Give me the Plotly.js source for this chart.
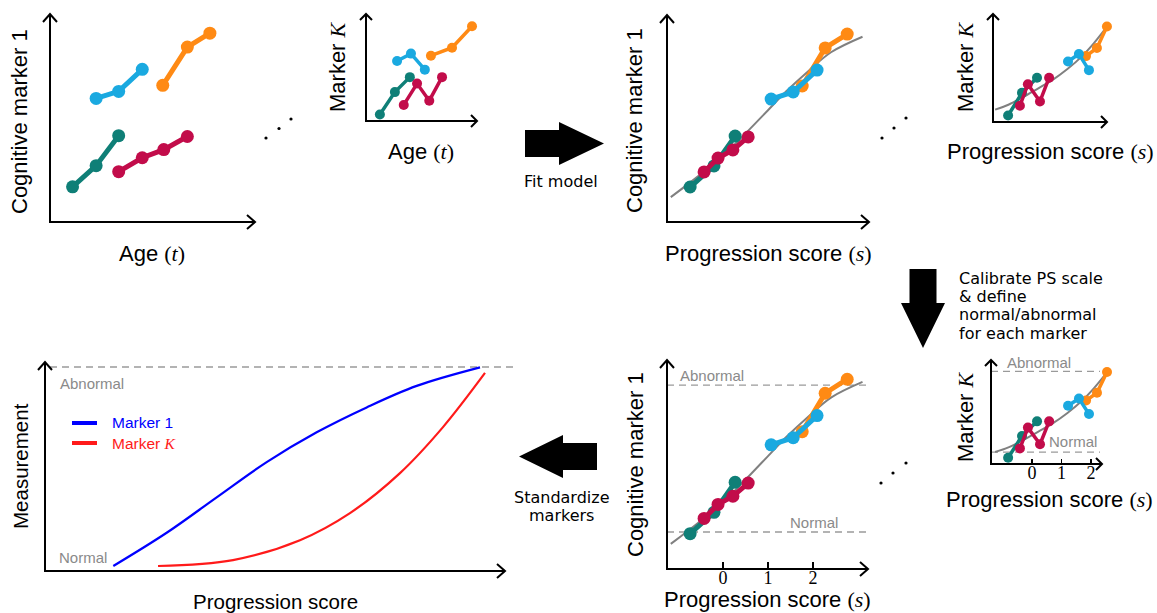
<!DOCTYPE html>
<html><head><meta charset="utf-8">
<script src="https://cdn.plot.ly/plotly-3.0.1.min.js"></script>
<style>html,body{margin:0;padding:0;background:#fff;}#chart{width:1157px;height:613px;}</style>
</head><body><div id="chart"></div>
<script>
// ================= DATA =================
// Cognitive marker 1 measurements per subject (shared by age and PS panels)
const cog1_teal    = [1.69, 2.71, 4.15];
const cog1_cyan    = [5.94, 6.28, 7.34];
const cog1_orange  = [6.57, 8.41, 9.08];
const cog1_crimson = [2.42, 3.09, 3.48, 4.11];
// ages at visits (cognitive marker 1 panel)
const age1_teal    = [62.2, 64.5, 66.7];
const age1_cyan    = [64.5, 66.7, 69.0];
const age1_orange  = [71.0, 73.4, 75.6];
const age1_crimson = [66.7, 69.0, 71.1, 73.4];
// Marker K measurements per subject
const mk_teal    = [0.6, 2.7, 4.1];
const mk_cyan    = [5.6, 6.3, 4.8];
const mk_orange  = [6.1, 6.85, 8.85];
const mk_crimson = [1.5, 3.5, 1.9, 4.1];
// ages at visits (marker K panel)
const ageK_teal    = [62.5, 65.2, 67.9];
const ageK_cyan    = [65.6, 68.1, 70.6];
const ageK_orange  = [71.7, 75.5, 79.1];
const ageK_crimson = [66.8, 69.2, 71.4, 73.7];
// progression scores (marker 1 panels)
const ps1_teal    = [-0.73, -0.20, 0.27];
const ps1_cyan    = [1.07, 1.56, 2.09];
const ps1_orange  = [1.76, 2.27, 2.76];
const ps1_crimson = [-0.42, -0.11, 0.22, 0.56];
// progression scores (marker K panels)
const psK_teal    = [-0.81, -0.34, 0.17];
const psK_cyan    = [1.22, 1.59, 1.93];
const psK_orange  = [1.83, 2.20, 2.54];
const psK_crimson = [-0.41, -0.14, 0.27, 0.58];
// fitted model curves
const fit1_s = [-1.16, -0.5, 0.1, 0.6, 1.0, 1.4, 1.9, 2.4, 3.1];
const fit1_y = [1.2, 2.3, 3.4, 4.5, 5.4, 6.3, 7.3, 8.2, 8.95];
const fitK_s = [-1.25, -0.8, -0.3, 0.2, 0.7, 1.2, 1.7, 2.1, 2.45];
const fitK_y = [1.15, 1.6, 2.3, 3.1, 3.9, 4.9, 6.1, 7.3, 8.5];
// normal / abnormal levels
const cog1_levels = [1.77, 8.8];   // [normal, abnormal]
const mk_levels   = [1.15, 8.9];
// standardized curves
const std1_ps  = [1.485, 2.645, 3.732, 4.819, 5.906, 6.993, 8.08, 9.457];
const std1_val = [0.0, 0.167, 0.345, 0.522, 0.672, 0.797, 0.905, 0.998];
const stdK_ps  = [2.457, 4.087, 5.543, 6.63, 7.717, 8.652, 9.565];
const stdK_val = [0.0, 0.03, 0.13, 0.266, 0.467, 0.698, 0.97];
const std_abnormal = 1;
// tick labels
const psTicks = [0, 1, 2];
const psTickText = ['0', '1', '2'];

// ================= STYLE / LAYOUT =================
const W = 1157, H = 613, PAD = 20;
const px = x => x / W, py = y => 1 - y / H;
const C = {teal:'#0f7f77', cyan:'#1aa9e0', orange:'#ff8a14', crimson:'#c20c4a', gray:'#808080'};
const SANS = 'Liberation Sans', SERIF = 'Liberation Serif', HELP = 'DejaVu Sans';

const panels = [
  {n:1, ox:50,  ex:255,  oy:222, ty:14,  xr:[60,80],          yr:[0,10], big:true},
  {n:2, ox:366, ex:477,  oy:121, ty:14,  xr:[60,80],          yr:[0,10], big:false},
  {n:3, ox:667, ex:869,  oy:222, ty:15,  xr:[-1.244,3.244],   yr:[0,10], big:true},
  {n:4, ox:993, ex:1107, oy:122, ty:14,  xr:[-1.322,2.542],   yr:[0,10], big:false},
  {n:5, ox:991, ex:1102, oy:464, ty:360, xr:[-1.39,2.37],     yr:[0,10], big:false, ticks:5},
  {n:6, ox:667, ex:868,  oy:569, ty:360, xr:[-1.244,3.222],   yr:[0,10], big:true, ticks:7},
  {n:7, ox:45,  ex:505,  oy:571, ty:362, xr:[0,10],           yr:[-0.025,1.025], big:true}
];
const sid = n => (n === 1 ? '' : String(n));

const layout = {
  width: W, height: H, autosize: false,
  margin: {l:0, r:0, t:0, b:0, pad:0},
  paper_bgcolor: '#fff', plot_bgcolor: 'rgba(0,0,0,0)',
  showlegend: false, shapes: [], annotations: []
};

panels.forEach(p => {
  const kx = (p.xr[1]-p.xr[0])/(p.ex-p.ox), ky = (p.yr[1]-p.yr[0])/(p.oy-p.ty);
  const pl = Math.min(PAD, p.ox), pr = Math.min(PAD, W-p.ex), pt = Math.min(PAD, p.ty), pb = Math.min(PAD, H-p.oy);
  const xa = {
    domain: [px(p.ox-pl), px(p.ex+pr)], range: [p.xr[0]-pl*kx, p.xr[1]+pr*kx],
    anchor: 'y'+sid(p.n), showgrid:false, zeroline:false, showline:false, fixedrange:true,
    showticklabels:false, ticks:''
  };
  if (p.ticks) {
    Object.assign(xa, {anchor:'free', position: py(p.oy), showticklabels:true, ticks:'inside',
      tickvals: psTicks, ticktext: psTickText, ticklen: p.ticks, tickwidth: 1.5, tickcolor:'#000',
      ticklabelstandoff: -4,
      tickfont:{family:SERIF, size:18, color:'#000'}});
  }
  layout['xaxis'+sid(p.n)] = xa;
  layout['yaxis'+sid(p.n)] = {
    domain: [py(p.oy+pb), py(p.ty-pt)], range: [p.yr[0]-pb*ky, p.yr[1]+pt*ky],
    anchor: 'x'+sid(p.n), showgrid:false, zeroline:false, showline:false, fixedrange:true,
    showticklabels:false, ticks:''
  };
  // axis lines + open arrowheads
  const L = p.big ? 8 : 6, Wd = p.big ? 7 : 6;
  const ax = {type:'path', xref:'paper', yref:'paper', line:{color:'#000', width:2}, layer:'above'};
  const P = (x,y) => px(x)+','+py(y);
  layout.shapes.push(Object.assign({}, ax, {path:`M${P(p.ox,p.ty)} L${P(p.ox,p.oy)} L${P(p.ex,p.oy)}`}));
  layout.shapes.push(Object.assign({}, ax, {path:`M${P(p.ox-Wd,p.ty+L)} L${P(p.ox,p.ty)} L${P(p.ox+Wd,p.ty+L)}`}));
  layout.shapes.push(Object.assign({}, ax, {path:`M${P(p.ex-L,p.oy-Wd)} L${P(p.ex,p.oy)} L${P(p.ex-L,p.oy+Wd)}`}));
});

// ================= TRACES =================
const traces = [];
function ser(n, x, y, color, big) {
  traces.push({type:'scatter', mode:'lines+markers', x, y,
    xaxis:'x'+sid(n), yaxis:'y'+sid(n),
    line:{color, width: big ? 5 : 3.5}, marker:{color, size: big ? 13 : 10},
    cliponaxis:false, hoverinfo:'skip', showlegend:false});
}
function curve(n, x, y, color, w) {
  traces.push({type:'scatter', mode:'lines', x, y, xaxis:'x'+sid(n), yaxis:'y'+sid(n),
    line:{color, width:w, shape:'spline', smoothing:1}, cliponaxis:false, hoverinfo:'skip', showlegend:false});
}
// panel 1: marker 1 vs age
ser(1, age1_teal, cog1_teal, C.teal, true);
ser(1, age1_cyan, cog1_cyan, C.cyan, true);
ser(1, age1_orange, cog1_orange, C.orange, true);
ser(1, age1_crimson, cog1_crimson, C.crimson, true);
// panel 2: marker K vs age
ser(2, ageK_teal, mk_teal, C.teal, false);
ser(2, ageK_cyan, mk_cyan, C.cyan, false);
ser(2, ageK_orange, mk_orange, C.orange, false);
ser(2, ageK_crimson, mk_crimson, C.crimson, false);
// panels 3 & 6: marker 1 vs PS
[3, 6].forEach(n => {
  curve(n, fit1_s, fit1_y, C.gray, 2);
  ser(n, ps1_teal, cog1_teal, C.teal, true);
  ser(n, ps1_orange, cog1_orange, C.orange, true);
  ser(n, ps1_cyan, cog1_cyan, C.cyan, true);
  ser(n, ps1_crimson, cog1_crimson, C.crimson, true);
});
// panels 4 & 5: marker K vs PS
[4, 5].forEach(n => {
  curve(n, fitK_s, fitK_y, C.gray, 2);
  ser(n, psK_teal, mk_teal, C.teal, false);
  ser(n, psK_orange, mk_orange, C.orange, false);
  ser(n, psK_cyan, mk_cyan, C.cyan, false);
  ser(n, psK_crimson, mk_crimson, C.crimson, false);
});
// panel 7: standardized markers
curve(7, std1_ps, std1_val, '#0000ff', 2.2);
curve(7, stdK_ps, stdK_val, '#ff1a1a', 2.2);

// ================= DECORATIONS =================
const dash = {color:'#9a9a9a', width:1.3, dash:'7px,5px'};
cog1_levels.forEach(v => layout.shapes.push({type:'line', xref:'paper', yref:'y6', x0:px(667), x1:px(868), y0:v, y1:v, line:dash, layer:'below'}));
mk_levels.forEach(v => layout.shapes.push({type:'line', xref:'paper', yref:'y5', x0:px(991), x1:px(1100), y0:v, y1:v, line:dash, layer:'below'}));
layout.shapes.push({type:'line', xref:'paper', yref:'y7', x0:px(50), x1:px(516), y0:std_abnormal, y1:std_abnormal, line:dash, layer:'below'});

// block arrows
const P = (x,y) => px(x)+','+py(y);
const block = pts => ({type:'path', xref:'paper', yref:'paper', fillcolor:'#000', line:{width:0},
  path: 'M' + pts.map(q => P(q[0], q[1])).join(' L') + ' Z'});
layout.shapes.push(block([[525,130],[559,130],[559,122],[604,143.5],[559,165],[559,157],[525,157]]));
layout.shapes.push(block([[909.5,269],[936.5,269],[936.5,303],[945,303],[923,348],[901,303],[909.5,303]]));
layout.shapes.push(block([[597,443],[563,443],[563,435],[519,456.5],[563,478],[563,470],[597,470]]));

// ellipsis dots
[[266,138],[279,128.5],[291,119],[882,138],[894,128],[906,118],[881,483],[893,473],[906,463]].forEach(d => {
  const r = 1.6;
  layout.shapes.push({type:'circle', xref:'paper', yref:'paper', x0:px(d[0]-r), x1:px(d[0]+r), y0:py(d[1]+r), y1:py(d[1]-r),
    fillcolor:'#000', line:{width:0}});
});
// legend segments (panel 7)
layout.shapes.push({type:'line', xref:'paper', yref:'paper', x0:px(72), x1:px(97), y0:py(423), y1:py(423), line:{color:'#0000ff', width:4}});
layout.shapes.push({type:'line', xref:'paper', yref:'paper', x0:px(72), x1:px(97), y0:py(443), y1:py(443), line:{color:'#ff1a1a', width:4}});

// ================= TEXT =================
const ser_ = s => `<span style="font-family:'${SERIF}'">${s}</span>`;
function txt(text, x, y, opts) {
  layout.annotations.push(Object.assign({
    text, x: px(x), y: py(y), xref:'paper', yref:'paper', showarrow:false,
    xanchor:'center', yanchor:'middle', font:{family:SANS, size:22, color:'#000'}
  }, opts || {}));
}
const YT = {textangle:-90};
const cog1 = 'Cognitive marker 1';
const mK = 'Marker ' + ser_('<i>K</i>');
const ageT = 'Age ' + ser_('(<i>t</i>)');
const psT = 'Progression score ' + ser_('(<i>s</i>)');
// panel 1
txt(cog1, 19, 122, YT);
txt(ageT, 152, 254);
// panel 2
txt(mK, 337, 67, YT);
txt(ageT, 421, 152);
// panel 3
txt(cog1, 635, 121, YT);
txt(psT, 768, 253);
// panel 4
txt(mK, 965, 67, YT);
txt(psT, 1050, 152);
// panel 5
txt(mK, 965, 417, YT);
txt(psT, 1049, 499);
// panel 6
txt(cog1, 635, 465, YT);
txt(psT, 767, 599);
// panel 7
txt('Measurement', 20, 466, {textangle:-90, font:{family:SANS, size:20.5, color:'#000'}});
txt('Progression score', 275, 601, {font:{family:SANS, size:20.5, color:'#000'}});
const grayF = {family:SANS, size:15, color:'#8a8a8a'};
txt('Abnormal', 58, 383, {xanchor:'left', font:grayF});
txt('Normal', 57, 557, {xanchor:'left', font:grayF});
txt('Abnormal', 678, 375, {xanchor:'left', font:grayF});
txt('Normal', 788, 522, {xanchor:'left', font:grayF});
txt('Abnormal', 1005, 362, {xanchor:'left', font:grayF});
txt('Normal', 1047, 441, {xanchor:'left', font:grayF});
txt('Marker 1', 110, 423, {xanchor:'left', font:{family:SANS, size:15.5, color:'#0000ff'}});
txt('Marker ' + ser_('<i>K</i>'), 110, 443, {xanchor:'left', font:{family:SANS, size:15.5, color:'#ff1a1a'}});
// step labels
const helpF = {family:HELP, size:16, color:'#000'};
txt('Fit model', 561, 181, {font:helpF});
txt('Standardize', 561, 497, {font:helpF});
txt('markers', 561, 515, {font:helpF});
['Calibrate PS scale', '&amp; define', 'normal/abnormal', 'for each marker'].forEach((s, i) =>
  txt(s, 957, 278 + i * 18.4, {xanchor:'left', font:helpF}));

Plotly.newPlot('chart', traces, layout, {staticPlot:true, displayModeBar:false});
</script>
</body></html>
